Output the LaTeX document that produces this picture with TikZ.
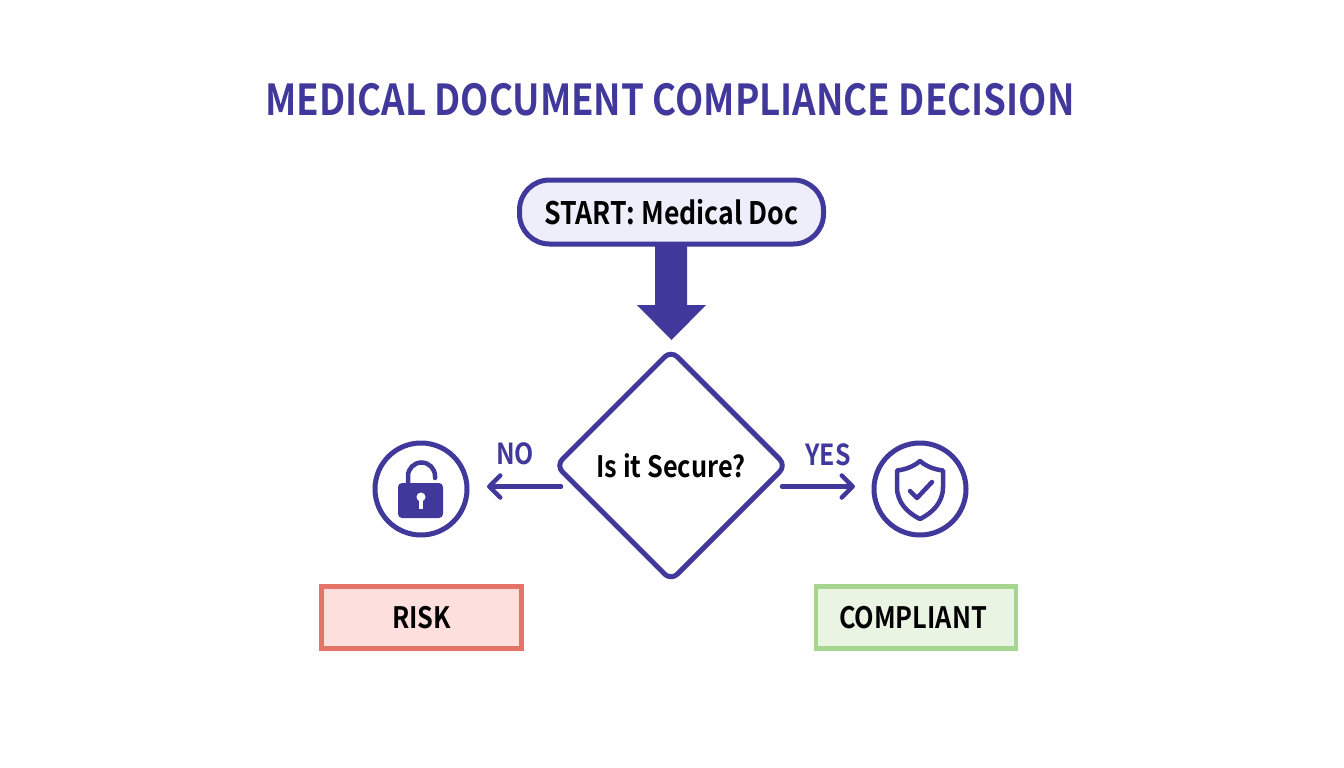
\documentclass[tikz,border=0pt]{standalone}
\usepackage{fontspec}
\setmainfont{Noto Sans CJK SC}[BoldFont={Noto Sans CJK SC Bold}]
\newfontfamily\bodyfont{Noto Sans CJK SC Bold}[FakeStretch=0.86]
\usetikzlibrary{shapes.geometric,arrows.meta}
\definecolor{ink}{HTML}{41389B}
\definecolor{startfill}{HTML}{EEEDFA}
\definecolor{riskline}{HTML}{E57368}
\definecolor{riskfill}{HTML}{FDE0DD}
\definecolor{okline}{HTML}{A5D58F}
\definecolor{okfill}{HTML}{EAF4E3}
\tikzset{
  label text/.style={font=\bodyfont\fontsize{29.5}{32}\selectfont,text=black,inner sep=0pt},
  flow/.style={draw=ink,line width=4.5pt,line cap=round,-{Straight Barb[length=11pt,width=22pt,line width=4.5pt,round]}},
  outcome/.style={draw,line width=4.5pt,minimum width=200pt,minimum height=62pt,label text},
  badge/.style={circle,draw=ink,line width=5pt,minimum size=92pt,inner sep=0pt},
  branch/.style={font=\bodyfont\fontsize{29}{32}\selectfont,text=ink,inner sep=0pt}
}
\begin{document}
\begin{tikzpicture}[x=1pt,y=-1pt]
\useasboundingbox (0,0) rectangle (1344,768);
\node[font=\bodyfont\fontsize{42.7}{50}\selectfont,text=ink,inner sep=0pt] (title) at (670,100) {MEDICAL DOCUMENT COMPLIANCE DECISION};
\node[draw=ink,fill=startfill,line width=5pt,rounded corners=30pt,minimum width=304pt,minimum height=64pt,label text,font=\bodyfont\fontsize{31}{34}\selectfont] (start) at (671.5,212) {START: Medical Doc};
\node[diamond,draw=ink,line width=5pt,rounded corners=9pt,minimum width=232pt,minimum height=232pt,inner sep=0pt,label text] (dec) at (671,465.5) {Is it Secure?};
\coordinate (tip) at (671.5,340);
\fill[ink] (655,244) -- (687,244) -- (687,305) -- (706,305) -- (tip) -- (637,305) -- (655,305) -- cycle;
\node[badge] (lock) at (421,489) {};
\node[badge] (shield) at (920,489) {};
\coordinate (noFrom) at (561,486.5);
\coordinate (noTo) at (487,486.5);
\coordinate (yesFrom) at (782,486.5);
\coordinate (yesTo) at (855,486.5);
\draw[flow] (noFrom) -- (noTo);
\draw[flow] (yesFrom) -- (yesTo);
\node[branch] (no) at (515,454) {NO};
\node[branch] (yes) at (828,455) {YES};
% lock
\draw[ink,line width=4.5pt,line cap=round] (408,484) -- (408,476) arc[start angle=180,end angle=360,radius=13.5] -- (435,478);
\fill[ink,rounded corners=4pt] (398,483) rectangle (443,518);
\fill[white] (421,497) circle (4.5);
\fill[white] (419,497) rectangle (423,508.5);
% shield
\draw[ink,line width=4.5pt,line join=round] (920,461) .. controls (913,467) and (905,469.5) .. (897,470.5) -- (897,487) .. controls (897,503) and (908,513) .. (920,519) .. controls (932,513) and (943,503) .. (943,487) -- (943,470.5) .. controls (935,469.5) and (927,467) .. (920,461) -- cycle;
\draw[ink,line width=4.5pt,line cap=round,line join=round] (910,491) -- (917,498) -- (932,482);
\node[outcome,draw=riskline,fill=riskfill] (risk) at (421.5,617.5) {RISK};
\node[outcome,draw=okline,fill=okfill] (ok) at (916,617.5) {\hspace{-6pt}COMPLIANT};
\end{tikzpicture}
\end{document}
